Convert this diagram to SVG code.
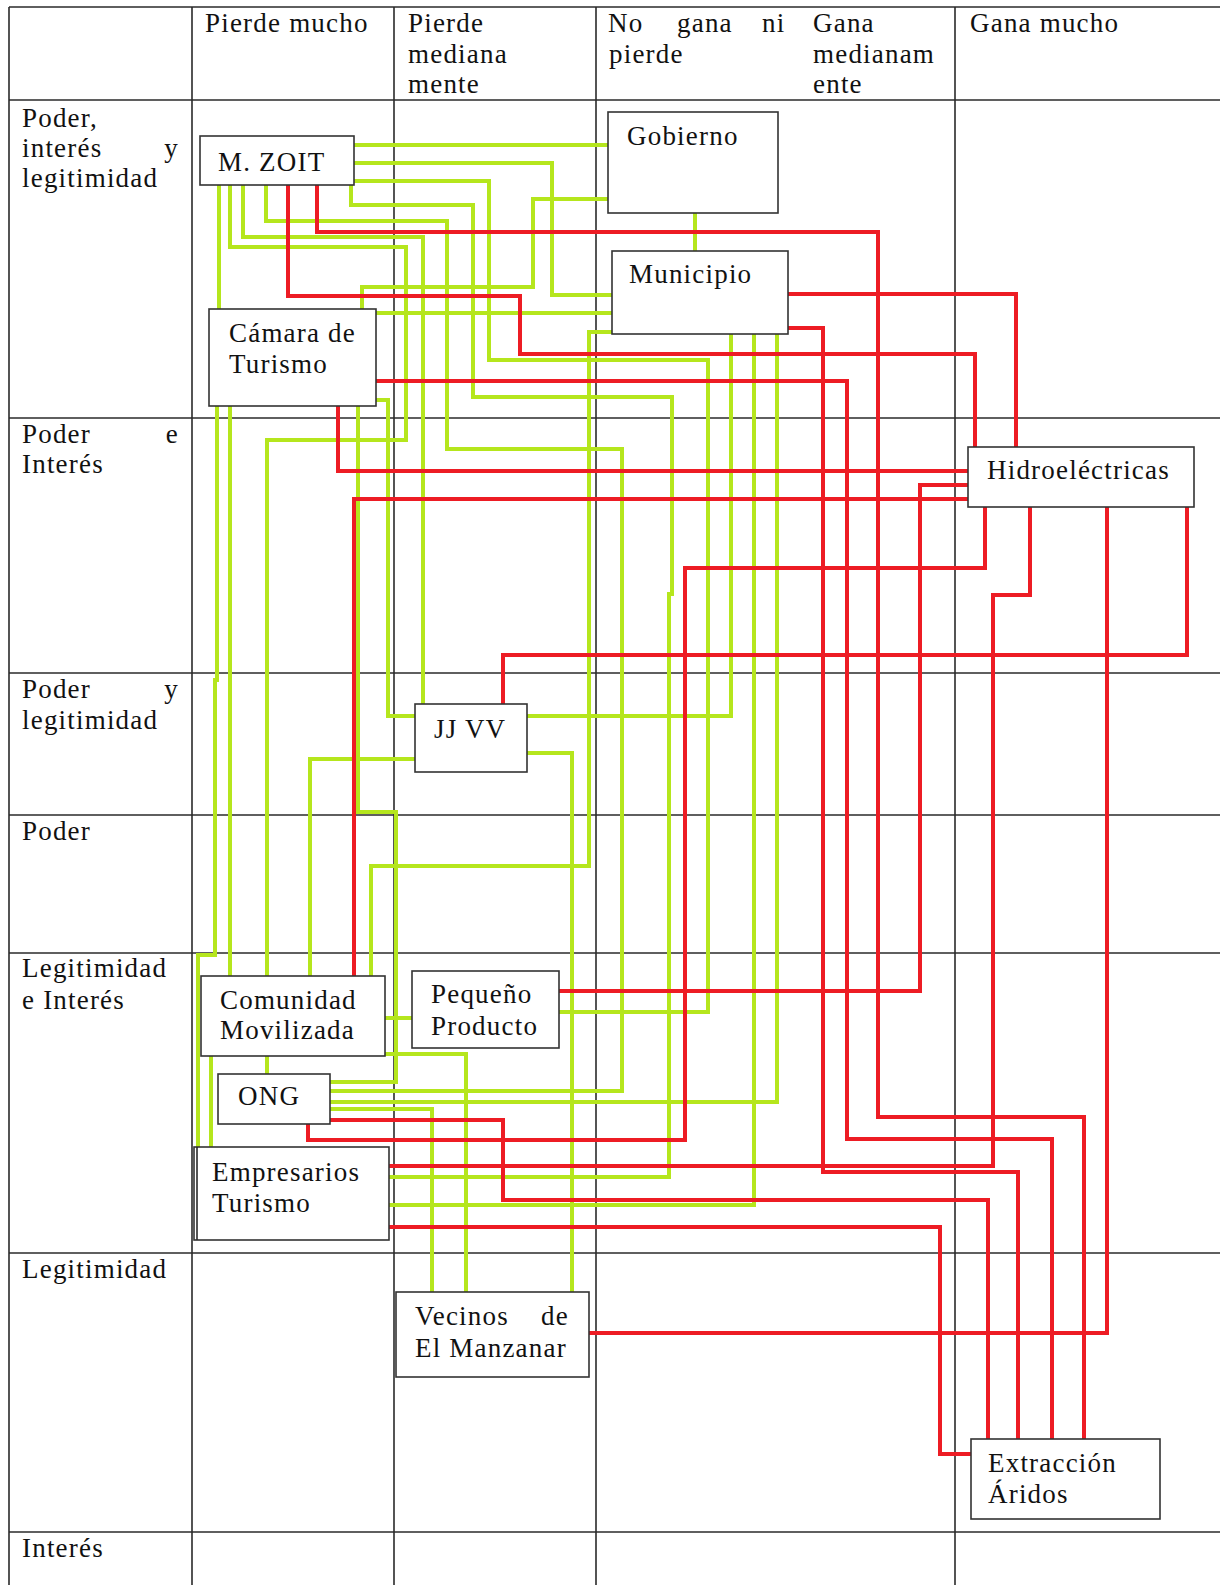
<svg xmlns="http://www.w3.org/2000/svg" width="1220" height="1585" viewBox="0 0 1220 1585">
  <style>
    .grid { stroke: #2a2a2a; stroke-width: 1.6; fill: none; }
    .lbl { font-family: "Liberation Serif", "Times New Roman", serif; font-size: 27px; letter-spacing: 1.2px; fill: #111; }
    .end { text-anchor: end; }
    .box { fill: #ffffff; stroke: #333333; stroke-width: 1.6; }
    .g { fill: none; stroke: #b5e61d; stroke-width: 4; stroke-linejoin: miter; }
    .r { fill: none; stroke: #ed1c24; stroke-width: 4; stroke-linejoin: miter; }
  </style>
  <rect width="1220" height="1585" fill="#ffffff"/>

  <!-- matrix grid -->
  <g id="grid">
    <line class="grid" x1="9" y1="7" x2="1220" y2="7"/>
    <line class="grid" x1="9" y1="100" x2="1220" y2="100"/>
    <line class="grid" x1="9" y1="418" x2="1220" y2="418"/>
    <line class="grid" x1="9" y1="673" x2="1220" y2="673"/>
    <line class="grid" x1="9" y1="815" x2="1220" y2="815"/>
    <line class="grid" x1="9" y1="953" x2="1220" y2="953"/>
    <line class="grid" x1="9" y1="1253" x2="1220" y2="1253"/>
    <line class="grid" x1="9" y1="1532" x2="1220" y2="1532"/>
    <line class="grid" x1="9" y1="7" x2="9" y2="1585"/>
    <line class="grid" x1="192" y1="7" x2="192" y2="1585"/>
    <line class="grid" x1="394" y1="7" x2="394" y2="1585"/>
    <line class="grid" x1="596" y1="7" x2="596" y2="1585"/>
    <line class="grid" x1="955" y1="7" x2="955" y2="1585"/>
  </g>

  <!-- column headers -->
  <g id="headers">
    <text class="lbl" x="205" y="32">Pierde mucho</text>
    <text class="lbl" x="408" y="32">Pierde</text>
    <text class="lbl" x="408" y="63">mediana</text>
    <text class="lbl" x="408" y="93">mente</text>
    <text class="lbl" x="608" y="32">No</text>
    <text class="lbl" x="677" y="32">gana</text>
    <text class="lbl" x="762" y="32">ni</text>
    <text class="lbl" x="609" y="63">pierde</text>
    <text class="lbl" x="813" y="32">Gana</text>
    <text class="lbl" x="813" y="63">medianam</text>
    <text class="lbl" x="813" y="93">ente</text>
    <text class="lbl" x="970" y="32">Gana mucho</text>
  </g>

  <!-- row headers -->
  <g id="rows">
    <text class="lbl" x="22" y="127">Poder,</text>
    <text class="lbl" x="22" y="157">interés</text>
    <text class="lbl end" x="179" y="157">y</text>
    <text class="lbl" x="22" y="187">legitimidad</text>
    <text class="lbl" x="22" y="443">Poder</text>
    <text class="lbl end" x="179" y="443">e</text>
    <text class="lbl" x="22" y="473">Interés</text>
    <text class="lbl" x="22" y="698">Poder</text>
    <text class="lbl end" x="179" y="698">y</text>
    <text class="lbl" x="22" y="729">legitimidad</text>
    <text class="lbl" x="22" y="840">Poder</text>
    <text class="lbl" x="22" y="977">Legitimidad</text>
    <text class="lbl" x="22" y="1009">e Interés</text>
    <text class="lbl" x="22" y="1278">Legitimidad</text>
    <text class="lbl" x="22" y="1557">Interés</text>
  </g>

  <!-- relations: green = cooperation, red = conflict -->
  <g id="connectors">
    <polyline class="g" points="354,145 608,145"/>
    <polyline class="g" points="354,163 552,163 552,295 612,295"/>
    <polyline class="g" points="354,181 489,181 489,360 708,360 708,1012 559,1012"/>
    <polyline class="g" points="351,185 351,205 473,205 473,397 672,397 672,594 669,594 669,1177 389,1177"/>
    <polyline class="g" points="266,185 266,221 447,221 447,449 622,449 622,1091 330,1091"/>
    <polyline class="g" points="243,185 243,237 423,237 423,704"/>
    <polyline class="g" points="230,185 230,247 406,247 406,440 267,440 267,976"/>
    <polyline class="g" points="219,185 219,309"/>
    <polyline class="g" points="362,309 362,287 533,287 533,199 608,199"/>
    <polyline class="g" points="376,313 612,313"/>
    <polyline class="g" points="376,400 388,400 388,716 415,716"/>
    <polyline class="g" points="358,406 358,812 396,812 396,1082 330,1082"/>
    <polyline class="g" points="217,406 217,680 215,680 215,955 198,955 198,1147"/>
    <polyline class="g" points="230,406 230,976"/>
    <polyline class="g" points="695,213 695,251"/>
    <polyline class="g" points="612,332 589,332 589,866 371,866 371,976"/>
    <polyline class="g" points="731,334 731,716 527,716"/>
    <polyline class="g" points="754,334 754,1205 389,1205"/>
    <polyline class="g" points="777,334 777,1102 330,1102"/>
    <polyline class="g" points="527,753 572,753 572,1292"/>
    <polyline class="g" points="415,759 310,759 310,976"/>
    <polyline class="g" points="385,1018 412,1018"/>
    <polyline class="g" points="385,1054 466,1054 466,1292"/>
    <polyline class="g" points="267,1056 267,1074"/>
    <polyline class="g" points="211,1056 211,1147"/>
    <polyline class="g" points="330,1109 432,1109 432,1292"/>

    <polyline class="r" points="288,185 288,296 520,296 520,354 975,354 975,447"/>
    <polyline class="r" points="317,185 317,232 878,232 878,1117 1084,1117 1084,1439"/>
    <polyline class="r" points="788,294 1016,294 1016,447"/>
    <polyline class="r" points="785,328 823,328 823,1172 1018,1172 1018,1439"/>
    <polyline class="r" points="376,381 847,381 847,1139 1052,1139 1052,1439"/>
    <polyline class="r" points="338,406 338,471 968,471"/>
    <polyline class="r" points="354,976 354,499 968,499"/>
    <polyline class="r" points="559,991 920,991 920,485 968,485"/>
    <polyline class="r" points="503,704 503,655 1187,655 1187,507"/>
    <polyline class="r" points="308,1124 308,1140 685,1140 685,568 985,568 985,507"/>
    <polyline class="r" points="389,1166 993,1166 993,595 1030,595 1030,507"/>
    <polyline class="r" points="589,1333 1107,1333 1107,507"/>
    <polyline class="r" points="330,1120 503,1120 503,1200 988,1200 988,1439"/>
    <polyline class="r" points="389,1227 940,1227 940,1454 971,1454"/>
  </g>

  <!-- actors -->
  <g id="m-zoit">
    <rect class="box" x="200" y="136" width="154" height="49"/>
    <text class="lbl" x="218" y="171">M. ZOIT</text>
  </g>
  <g id="gobierno">
    <rect class="box" x="608" y="112" width="170" height="101"/>
    <text class="lbl" x="627" y="145">Gobierno</text>
  </g>
  <g id="municipio">
    <rect class="box" x="612" y="251" width="176" height="83"/>
    <text class="lbl" x="629" y="283">Municipio</text>
  </g>
  <g id="camara-turismo">
    <rect class="box" x="209" y="309" width="167" height="97"/>
    <text class="lbl" x="229" y="342">Cámara de</text>
    <text class="lbl" x="229" y="373">Turismo</text>
  </g>
  <g id="hidroelectricas">
    <rect class="box" x="968" y="447" width="226" height="60"/>
    <text class="lbl" x="987" y="479">Hidroeléctricas</text>
  </g>
  <g id="jjvv">
    <rect class="box" x="415" y="704" width="112" height="68"/>
    <text class="lbl" x="434" y="738">JJ VV</text>
  </g>
  <g id="comunidad-movilizada">
    <rect class="box" x="201" y="976" width="184" height="80"/>
    <text class="lbl" x="220" y="1009">Comunidad</text>
    <text class="lbl" x="220" y="1039">Movilizada</text>
  </g>
  <g id="pequeno-producto">
    <rect class="box" x="412" y="971" width="147" height="77"/>
    <text class="lbl" x="431" y="1003">Pequeño</text>
    <text class="lbl" x="431" y="1035">Producto</text>
  </g>
  <g id="ong">
    <rect class="box" x="218" y="1074" width="112" height="50"/>
    <text class="lbl" x="238" y="1105">ONG</text>
  </g>
  <g id="empresarios-turismo">
    <rect class="box" x="194" y="1147" width="195" height="93"/>
    <line class="grid" x1="197" y1="1147" x2="197" y2="1240"/>
    <text class="lbl" x="212" y="1181">Empresarios</text>
    <text class="lbl" x="212" y="1212">Turismo</text>
  </g>
  <g id="vecinos-manzanar">
    <rect class="box" x="396" y="1292" width="193" height="85"/>
    <text class="lbl" x="415" y="1325">Vecinos</text>
    <text class="lbl end" x="569" y="1325">de</text>
    <text class="lbl" x="415" y="1357">El Manzanar</text>
  </g>
  <g id="extraccion-aridos">
    <rect class="box" x="971" y="1439" width="189" height="80"/>
    <text class="lbl" x="988" y="1472">Extracción</text>
    <text class="lbl" x="988" y="1503">Áridos</text>
  </g>
</svg>
